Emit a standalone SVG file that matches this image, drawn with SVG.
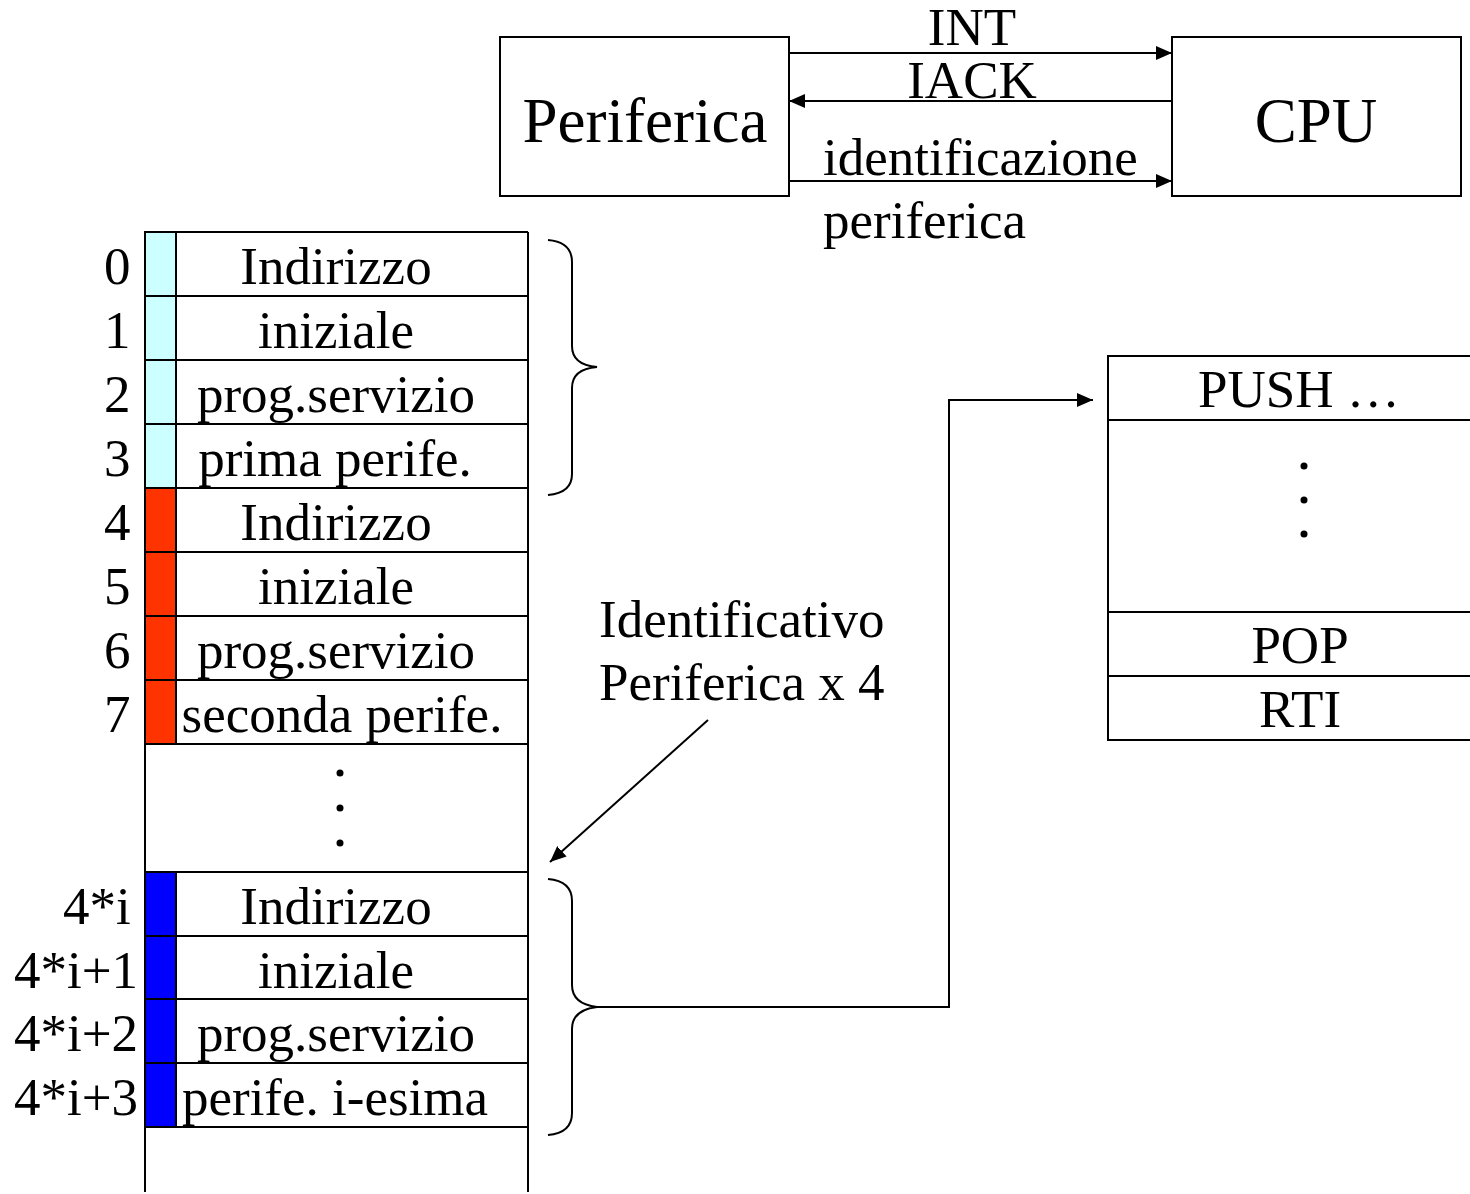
<svg xmlns="http://www.w3.org/2000/svg" width="1470" height="1194" viewBox="0 0 1470 1194">
  <style>
    .ln { stroke: #000; stroke-width: 2; fill: none; }
    .box { stroke: #000; stroke-width: 2; fill: #fff; }
    .t { font-family: "Liberation Serif", "Times New Roman", serif; font-size: 53px; fill: #000; }
    .big { font-family: "Liberation Serif", "Times New Roman", serif; font-size: 63px; fill: #000; }
    .mid { text-anchor: middle; }
    .cy { fill: #CCFFFF; stroke: #000; stroke-width: 2; }
    .rd { fill: #FF3300; stroke: #000; stroke-width: 2; }
    .bl { fill: #0000FF; stroke: #000; stroke-width: 2; }
    .dot { fill: #000; }
  </style>
  <defs>
    <marker id="ah" viewBox="0 0 16 14" refX="16" refY="7" markerWidth="16" markerHeight="14" markerUnits="userSpaceOnUse" orient="auto">
      <path d="M0,0 L16,7 L0,14 Z" fill="#000"/>
    </marker>
  </defs>

  <rect width="1470" height="1194" fill="#fff"/>

  <!-- peripheral device and CPU -->
  <g id="periferica">
    <rect class="box" x="500" y="37" width="289" height="159"/>
    <text class="big mid" x="645" y="142">Periferica</text>
  </g>
  <g id="cpu">
    <rect class="box" x="1172" y="37" width="289" height="159"/>
    <text class="big mid" x="1316" y="142">CPU</text>
  </g>

  <!-- interrupt vector table -->
  <g id="vector-table">
    <rect class="cy" x="145" y="232" width="31" height="64"/>
    <rect class="cy" x="145" y="296" width="31" height="64"/>
    <rect class="cy" x="145" y="360" width="31" height="64"/>
    <rect class="cy" x="145" y="424" width="31" height="64"/>
    <rect class="rd" x="145" y="488" width="31" height="64"/>
    <rect class="rd" x="145" y="552" width="31" height="64"/>
    <rect class="rd" x="145" y="616" width="31" height="64"/>
    <rect class="rd" x="145" y="680" width="31" height="64"/>
    <rect class="bl" x="145" y="872" width="31" height="64"/>
    <rect class="bl" x="145" y="936" width="31" height="63"/>
    <rect class="bl" x="145" y="999" width="31" height="64"/>
    <rect class="bl" x="145" y="1063" width="31" height="64"/>
    <path class="ln" d="M145,232 V1192 M528,232 V1192
      M145,232 H528 M145,296 H528 M145,360 H528 M145,424 H528 M145,488 H528
      M145,552 H528 M145,616 H528 M145,680 H528 M145,744 H528
      M145,872 H528 M145,936 H528 M145,999 H528 M145,1063 H528 M145,1127 H528"/>

    <text class="t" x="104" y="284">0</text>
    <text class="t" x="104" y="348">1</text>
    <text class="t" x="104" y="412">2</text>
    <text class="t" x="104" y="476">3</text>
    <text class="t" x="104" y="540">4</text>
    <text class="t" x="104" y="604">5</text>
    <text class="t" x="104" y="668">6</text>
    <text class="t" x="104" y="732">7</text>
    <text class="t" x="63" y="924">4*i</text>
    <text class="t" x="14" y="988">4*i+1</text>
    <text class="t" x="14" y="1051">4*i+2</text>
    <text class="t" x="14" y="1115">4*i+3</text>

    <text class="t mid" x="336" y="284">Indirizzo</text>
    <text class="t mid" x="336" y="348">iniziale</text>
    <text class="t mid" x="336" y="412">prog.servizio</text>
    <text class="t mid" x="335" y="476">prima perife.</text>
    <text class="t mid" x="336" y="540">Indirizzo</text>
    <text class="t mid" x="336" y="604">iniziale</text>
    <text class="t mid" x="336" y="668">prog.servizio</text>
    <text class="t mid" x="342" y="732">seconda perife.</text>
    <circle class="dot" cx="340" cy="773" r="3.5"/>
    <circle class="dot" cx="340" cy="808" r="3.5"/>
    <circle class="dot" cx="340" cy="843" r="3.5"/>
    <text class="t mid" x="335" y="1115">perife. i-esima</text>
    <text class="t mid" x="336" y="924">Indirizzo</text>
    <text class="t mid" x="336" y="988">iniziale</text>
    <text class="t mid" x="336" y="1051">prog.servizio</text>
  </g>

  <!-- interrupt service routine -->
  <g id="routine">
    <path class="ln" d="M1471,356 H1108 V740 H1471 M1108,420 H1471 M1108,612 H1471 M1108,676 H1471"/>
    <text class="t mid" x="1299" y="407">PUSH …</text>
    <circle class="dot" cx="1304" cy="466" r="3.5"/>
    <circle class="dot" cx="1304" cy="500" r="3.5"/>
    <circle class="dot" cx="1304" cy="534" r="3.5"/>
    <text class="t mid" x="1300" y="663">POP</text>
    <text class="t mid" x="1300" y="727">RTI</text>
  </g>

  <!-- annotation -->
  <g id="identificativo">
    <text class="t" x="599" y="637">Identificativo</text>
    <text class="t" x="599" y="700">Periferica x 4</text>
  </g>

  <!-- braces and connectors -->
  <g id="connectors">
    <path class="ln" d="M789,53 H1172" marker-end="url(#ah)"/>
    <path class="ln" d="M1172,101 H789" marker-end="url(#ah)"/>
    <path class="ln" d="M789,181 H1172" marker-end="url(#ah)"/>
    <text class="t mid" x="972" y="45">INT</text>
    <text class="t mid" x="972" y="98">IACK</text>
    <text class="t" x="823" y="175">identificazione</text>
    <text class="t" x="823" y="238">periferica</text>

    <path class="ln" d="M548,240 Q572,242 572,262 V346 Q572,365 597,367 Q572,369 572,388 V474 Q572,493 548,495"/>
    <path class="ln" d="M548,879 Q572,881 572,901 V985 Q572,1004 597,1007 Q572,1010 572,1029 V1113 Q572,1133 548,1135"/>

    <path class="ln" d="M708,720 L550,862" marker-end="url(#ah)"/>
    <path class="ln" d="M597,1007 H949 V400 H1093" marker-end="url(#ah)"/>
  </g>
</svg>
